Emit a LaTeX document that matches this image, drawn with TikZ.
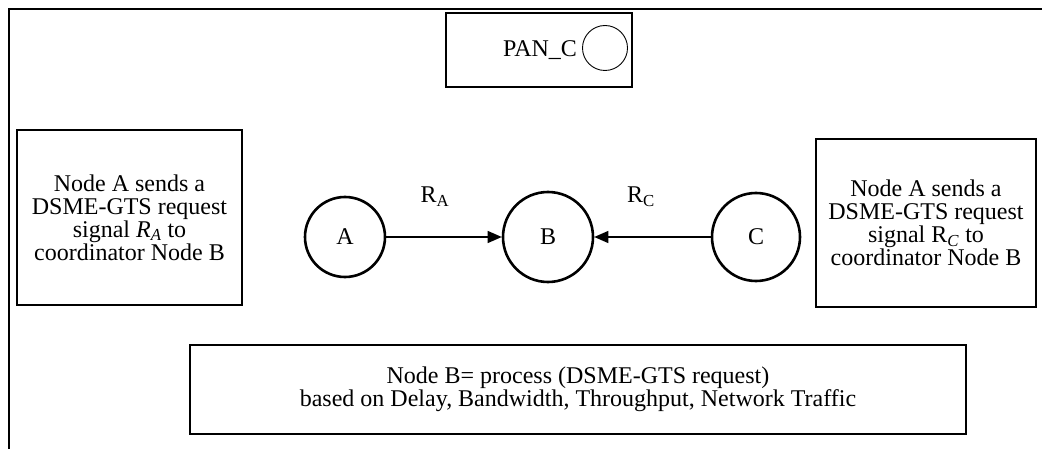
\documentclass[tikz,border=0pt]{standalone}
\usepackage{fontspec}
\setmainfont{Liberation Serif}
\usetikzlibrary{arrows.meta}

\begin{document}
\begin{tikzpicture}[
    x=1pt,y=-1pt,
    every node/.style={font=\fontsize{24}{23}\selectfont},
    box/.style={draw,line width=2.6pt,align=center,inner sep=0pt},
    station/.style={draw,circle,line width=2.6pt,inner sep=0pt},
    link/.style={line width=1.3pt,-{Triangle[length=14pt,width=12pt]}}
    ]
  \useasboundingbox (0,0) rectangle (1042,449);
  % frame (only top and left edges are inside the page)
  \draw[line width=2.6pt] (1042,9) -- (9,9) -- (9,449);
  % coordinator on top
  \node[box,minimum width=186,minimum height=74] (pan) at (539,50) {};
  \node (pantext) at (540,50) {PAN\_C};
  \node[draw,circle,line width=0.9pt,minimum size=45,inner sep=0pt] (panc) at (605,48) {};
  % side notes
  \node[box,minimum width=225,minimum height=175] (notea) at (129.5,217.5)
    {Node A sends a\\DSME-GTS request\\signal \textit{R\textsubscript{A}} to\\coordinator Node B};
  \node[box,minimum width=220,minimum height=168] (notec) at (926,223)
    {Node A sends a\\DSME-GTS request\\signal R\textsubscript{\textit{C}} to\\coordinator Node B};
  % requesting nodes and coordinator B
  \node[station,minimum size=80] (na) at (345,237) {A};
  \node[station,minimum size=90] (nb) at (548,237) {B};
  \node[station,minimum size=88] (nc) at (756,237) {C};
  \draw[link] (na) -- (nb);
  \draw[link] (nc) -- (nb);
  \node (ra) at (435,197) {R\textsubscript{A}};
  \node (rc) at (641,197) {R\textsubscript{C}};
  % processing at B
  \node[box,minimum width=776,minimum height=89] (proc) at (578,389.5)
    {Node B= process (DSME-GTS request)\\based on Delay, Bandwidth, Throughput, Network Traffic};
\end{tikzpicture}
\end{document}
